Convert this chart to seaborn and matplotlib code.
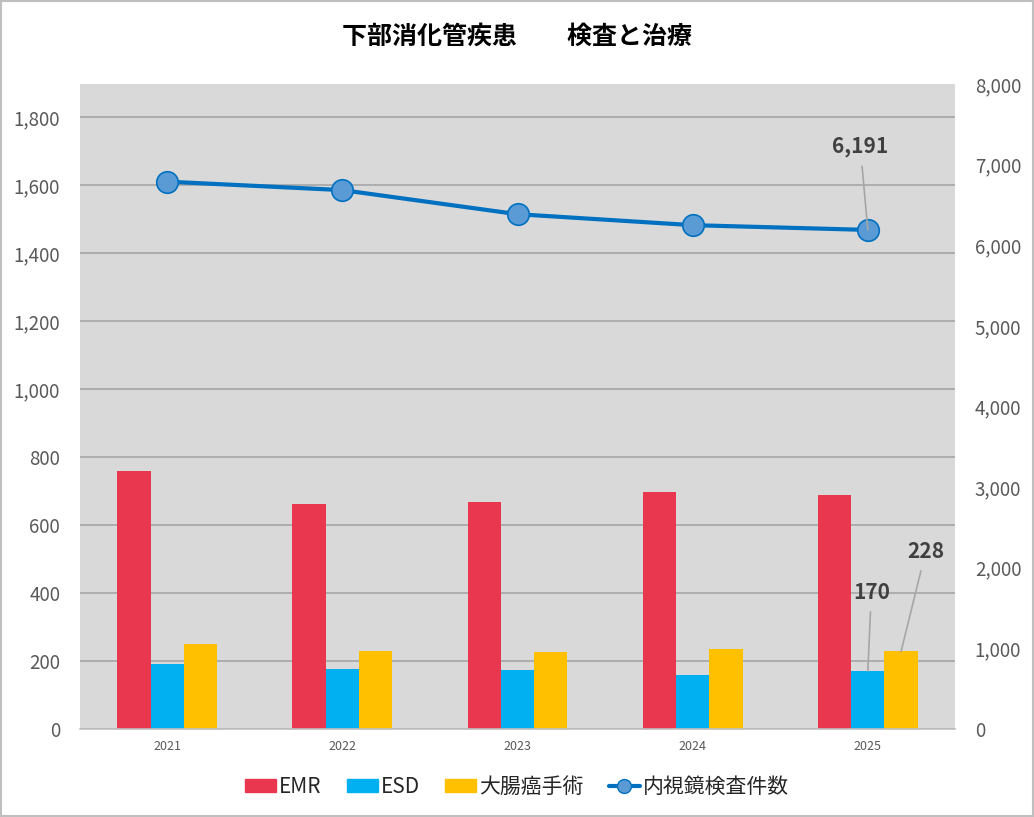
import matplotlib
matplotlib.use("Agg")
import matplotlib.pyplot as plt
import seaborn as sns
import pandas as pd
from matplotlib.ticker import FuncFormatter, FixedLocator
from matplotlib.patches import Rectangle

# データ
years = ["2021", "2022", "2023", "2024", "2025"]
emr = [760, 660, 668, 697, 688]
esd = [191, 176, 174, 159, 170]
surgery = [250, 229, 226, 235, 228]
endoscopy = [6790, 6685, 6386, 6250, 6191]

series_names = ["EMR", "ESD", "大腸癌手術"]
colors = ["#E8374F", "#00B0F0", "#FFC000"]
line_name = "内視鏡検査件数"

df = pd.DataFrame({
    "year": years * 3,
    "value": emr + esd + surgery,
    "kind": [n for n in series_names for _ in years],
})

sns.set_theme(style="white")
plt.rcParams["font.family"] = ["Noto Sans CJK JP", "DejaVu Sans"]

fig = plt.figure(figsize=(10.34, 8.17), dpi=100)
fig.patch.set_facecolor("white")
ax = fig.add_axes([0.077, 0.108, 0.847, 0.789])
ax.set_facecolor("#D9D9D9")

sns.barplot(data=df, x="year", y="value", hue="kind", palette=colors,
            width=0.57, gap=0, saturation=1, linewidth=0, ax=ax,
            legend=False, zorder=2)

ax.set_ylim(0, 1897)
ax.set_xlim(-0.5, 4.5)
ax.yaxis.set_major_locator(FixedLocator(range(0, 1801, 200)))
ax.yaxis.set_major_formatter(FuncFormatter(lambda v, p: f"{int(v):,}"))
ax.grid(axis="y", color="#A6A6A6", linewidth=1.2, zorder=0)
ax.set_axisbelow(True)
for s in ["top", "right", "left"]:
    ax.spines[s].set_visible(False)
ax.spines["bottom"].set_color("#BFBFBF")
ax.spines["bottom"].set_linewidth(1.2)
ax.set_xlabel("")
ax.set_ylabel("")
ax.tick_params(axis="y", labelsize=13.5, labelcolor="#595959", length=0, pad=14)
ax.tick_params(axis="x", which="major", labelsize=9, labelcolor="#595959", length=0, pad=8)
ax.set_xticks([-0.5, 0.5, 1.5, 2.5, 3.5, 4.5], minor=True)
ax.tick_params(axis="x", which="minor", length=6, color="#BFBFBF", width=1.2)

# 右軸: 内視鏡検査件数
ax2 = ax.twinx()
ax2.set_ylim(0, 8000)
ax2.plot(range(len(years)), endoscopy, color="#0070C0", linewidth=3,
         marker="o", markersize=15.5, markerfacecolor="#5B9BD5",
         markeredgecolor="#0070C0", markeredgewidth=1.2, zorder=3)
ax2.yaxis.set_major_locator(FixedLocator(range(0, 8001, 1000)))
ax2.yaxis.set_major_formatter(FuncFormatter(lambda v, p: f"{int(v):,}"))
ax2.tick_params(axis="y", labelsize=13.5, labelcolor="#595959", length=0, pad=14)
for s in ax2.spines.values():
    s.set_visible(False)
ax2.grid(False)

# 注記
lab = dict(fontsize=15, fontweight="bold", color="#404040", ha="center", va="bottom")
arrow = dict(arrowstyle="-", color="#A6A6A6", lw=1.2, shrinkA=4, shrinkB=0)
ax2.annotate(f"{endoscopy[-1]:,}", xy=(4, endoscopy[-1]), xytext=(3.957, 7090),
             arrowprops=arrow, **lab)
ax.annotate(str(esd[-1]), xy=(4.0, esd[-1]), xytext=(4.02, 370),
            arrowprops=arrow, **lab)
ax.annotate(str(surgery[-1]), xy=(4.19, surgery[-1]), xytext=(4.33, 490),
            arrowprops=arrow, **lab)

# 凡例
handles = [Rectangle((0, 0), 1, 1, color=c) for c in colors]
handles.append(plt.Line2D([], [], color="#0070C0", linewidth=3, marker="o",
                          markersize=10, markerfacecolor="#5B9BD5",
                          markeredgecolor="#0070C0"))
fig.legend(handles, series_names + [line_name], loc="center",
           bbox_to_anchor=(0.5, 0.037), ncol=4, frameon=False, fontsize=15,
           handlelength=1.5, handleheight=0.6, columnspacing=1.2,
           handletextpad=0.15, labelcolor="#262626")

fig.suptitle("下部消化管疾患　　検査と治療", x=0.5, y=0.97, fontsize=18,
             fontweight="bold", color="black")

# 外枠
fig.patches.append(Rectangle((0.001, 0.001), 0.998, 0.998, transform=fig.transFigure,
                             fill=False, edgecolor="#BFBFBF", linewidth=1.5))

fig.savefig("out.png", dpi=100)
